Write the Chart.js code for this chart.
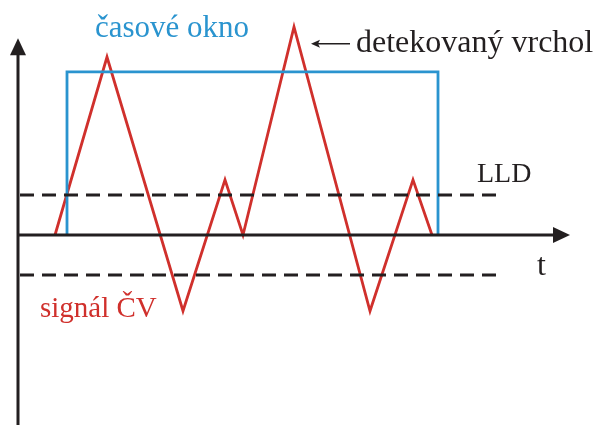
<!DOCTYPE html>
<html>
<head>
<meta charset="utf-8">
<script src="https://cdn.jsdelivr.net/npm/chart.js@4.4.0/dist/chart.umd.min.js"></script>
<style>
  html, body { margin: 0; padding: 0; background: #fff; }
  #wrap { width: 595px; height: 425px; }
</style>
</head>
<body>
<div id="wrap"><canvas id="signalChart" width="595" height="425"></canvas></div>
<script>
// signal of the detector (time, amplitude)
const signalT = [3.7, 8.9, 16.5, 20.7, 22.5, 27.6, 35.2, 39.5, 41.4];
const signalV = [0, 4.45, -1.9, 1.38, 0, 5.2, -1.9, 1.38, 0];

// time window (časové okno)
const windowT = [4.9, 4.9, 42.0, 42.0];
const windowV = [0, 4.08, 4.08, 0];

// discriminator levels
const lldUpper = 1;
const lldLower = -1;
const lldT = [0.2, 48.4];

// axes
const axisXEnd = 55.2;
const axisYTop = 4.92;
const axisYBottom = -4.75;

const RED = '#d0302c';
const BLUE = '#2a94cf';
const INK = '#231f20';
const SERIF = '"Liberation Serif", "DejaVu Serif", serif';

function pts(xs, ys) {
    return xs.map((x, i) => ({ x: x, y: ys[i] }));
}

// arrowheads and text labels
const annotations = {
    id: 'annotations',
    afterDatasetsDraw(chart) {
        let ctx = chart.ctx;
        let xs = chart.scales.x;
        let ys = chart.scales.y;
        let px = v => xs.getPixelForValue(v);
        let py = v => ys.getPixelForValue(v);

        ctx.save();
        ctx.fillStyle = INK;

        // y axis arrow
        let tipX = px(0), tipY = py(axisYTop);
        ctx.beginPath();
        ctx.moveTo(tipX, tipY);
        ctx.lineTo(tipX - 8, tipY + 17);
        ctx.lineTo(tipX + 8, tipY + 17);
        ctx.closePath();
        ctx.fill();

        // x axis arrow
        tipX = px(axisXEnd); tipY = py(0);
        ctx.beginPath();
        ctx.moveTo(tipX, tipY);
        ctx.lineTo(tipX - 17, tipY - 8);
        ctx.lineTo(tipX - 17, tipY + 8);
        ctx.closePath();
        ctx.fill();

        // pointer to detected peak
        let ay = py(4.78);
        let ax0 = px(29.3), ax1 = px(33.2);
        ctx.strokeStyle = INK;
        ctx.lineWidth = 1.5;
        ctx.beginPath();
        ctx.moveTo(ax0 + 4, ay);
        ctx.lineTo(ax1, ay);
        ctx.stroke();
        ctx.beginPath();
        ctx.moveTo(ax0, ay);
        ctx.lineTo(ax0 + 9, ay - 4);
        ctx.lineTo(ax0 + 7, ay);
        ctx.lineTo(ax0 + 9, ay + 4);
        ctx.closePath();
        ctx.fill();

        ctx.textBaseline = 'alphabetic';
        ctx.textAlign = 'left';

        ctx.fillStyle = BLUE;
        ctx.font = '31px ' + SERIF;
        ctx.fillText('časové okno', 95, 37);

        ctx.fillStyle = INK;
        ctx.font = '32px ' + SERIF;
        ctx.fillText('detekovaný vrchol', 356, 52);

        ctx.font = '28px ' + SERIF;
        ctx.fillText('LLD', 477, 182);

        ctx.font = '32px ' + SERIF;
        ctx.fillText('t', 537, 275);

        ctx.fillStyle = RED;
        ctx.font = '29px ' + SERIF;
        ctx.fillText('signál ČV', 40, 317);

        ctx.restore();
    }
};

let ctx = document.getElementById('signalChart').getContext('2d');
new Chart(ctx, {
    type: 'scatter',
    data: {
        datasets: [
            {
                label: 'osa t',
                data: pts([0, axisXEnd - 1.5], [0, 0]),
                borderColor: INK,
                borderWidth: 3
            },
            {
                label: 'osa y',
                data: pts([0, 0], [axisYBottom, axisYTop - 0.35]),
                borderColor: INK,
                borderWidth: 3
            },
            {
                label: 'LLD',
                data: pts(lldT, [lldUpper, lldUpper]),
                borderColor: INK,
                borderWidth: 3,
                borderDash: [14, 8]
            },
            {
                label: '-LLD',
                data: pts(lldT, [lldLower, lldLower]),
                borderColor: INK,
                borderWidth: 3,
                borderDash: [14, 8]
            },
            {
                label: 'časové okno',
                data: pts(windowT, windowV),
                borderColor: BLUE,
                borderWidth: 2.8
            },
            {
                label: 'signál ČV',
                data: pts(signalT, signalV),
                borderColor: RED,
                borderWidth: 2.8
            }
        ]
    },
    options: {
        responsive: false,
        animation: false,
        devicePixelRatio: 1,
        showLine: true,
        elements: {
            point: { radius: 0, hoverRadius: 0 },
            line: { tension: 0, borderJoinStyle: 'miter', borderCapStyle: 'butt' }
        },
        layout: { padding: 0 },
        plugins: {
            legend: { display: false },
            tooltip: { enabled: false }
        },
        scales: {
            x: { type: 'linear', min: -1.8, max: 57.7, display: false },
            y: { type: 'linear', min: -4.75, max: 5.875, display: false }
        }
    },
    plugins: [annotations]
});
</script>
</body>
</html>
